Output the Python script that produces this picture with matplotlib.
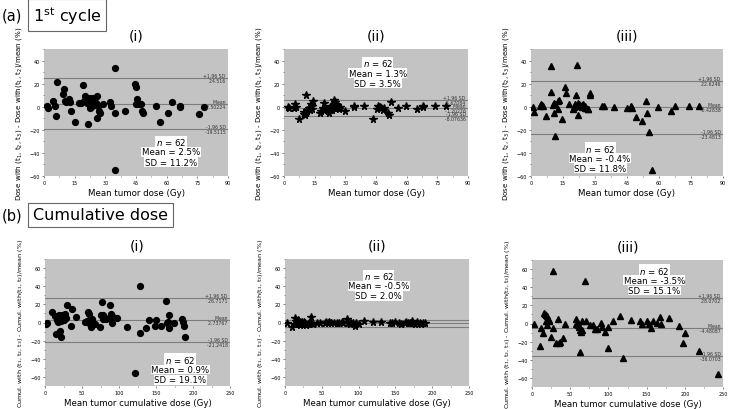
import matplotlib
matplotlib.use("Agg")
import matplotlib.pyplot as plt
from matplotlib.ticker import MultipleLocator

# ---- data ----
# (a) 1st cycle
a1_x = [1.6, 1.8, 4.5, 5.6, 5.8, 6.5, 9.5, 10.0, 10.5, 11.0, 12.0, 12.5, 13.0, 15.0,
        17.0, 18.0, 19.3, 20.0, 20.6, 21.0, 21.3, 22.0, 22.5, 23.0, 23.5, 24.0, 24.5,
        25.0, 25.8, 26.0, 26.2, 27.0, 27.3, 28.7, 32.2, 33.0, 34.7, 34.7, 34.9, 39.5,
        44.5, 45.0, 45.3, 44.8, 46.5, 47.3, 48.0, 48.3, 55.0, 56.5, 60.5, 62.6, 66.5,
        66.7, 76.0, 78.5, 21.8, 23.2, 24.3, 19.8, 22.7, 25.5]
a1_y = [0.9, -1.0, 5.2, 0.9, -8.3, 21.8, 11.0, 15.0, 5.0, 4.5, 7.0, 4.0, -3.4, -13.0,
        3.0, 3.0, 18.4, 9.0, 7.5, 3.0, -15.0, 6.0, 7.5, 0.0, 4.0, 7.5, 5.5,
        2.5, 9.0, -10.0, 1.0, -4.0, -5.5, 2.3, 4.0, 0.3, 33.3, -55.0, -5.5, -3.4,
        20.0, 17.5, 7.0, 2.0, 2.0, 2.0, -4.0, -5.5, 1.0, -13.0, -5.5, 4.0, 0.3,
        -0.6, -6.3, -0.6, 4.5, 2.5, 1.5, 5.0, -1.0, 3.5]
a2_x = [2.0, 2.5, 4.7, 5.2, 5.7, 7.3, 9.6, 10.0, 10.5, 10.9, 11.0, 11.2, 12.0, 12.5,
        13.0, 13.5, 14.0, 13.7, 17.8, 18.3, 19.0, 19.4, 20.5, 21.3, 21.8, 22.3, 22.7,
        23.0, 23.6, 24.0, 24.8, 25.0, 25.3, 25.7, 26.0, 26.5, 27.0, 27.3, 29.7, 34.0,
        34.4, 39.0, 43.5, 45.3, 46.0, 46.5, 47.0, 47.5, 48.3, 48.8, 51.0, 51.5, 52.5,
        55.8, 59.5, 65.0, 67.8, 68.2, 74.0, 79.0, 21.0, 24.4]
a2_y = [0.0, -0.8, -1.0, 2.0, -0.5, -11.0, -4.6, -6.5, -7.0, 10.0, -5.0, -2.6, -1.0, -2.5,
        2.0, 0.5, 4.6, -2.0, -5.5, -3.5, -1.5, 3.0, -2.0, -4.0, -5.5, -2.5, -0.5,
        0.5, -2.5, -1.0, 4.0, 2.0, 0.0, -0.5, 1.5, -1.5, -2.0, -0.5, -3.4, 0.0,
        1.0, 0.3, -11.0, -2.0, 1.0, 0.0, -0.5, -1.5, -2.5, -1.0, -5.5, -7.0, 3.7,
        -1.0, 1.0, -1.7, 0.0, 0.3, 1.0, 0.3, -3.0, 5.5]
a3_x = [1.1, 1.5, 4.2, 4.8, 5.3, 5.8, 6.9, 9.4, 9.4, 10.5, 10.8, 11.2, 10.9, 11.2,
        12.5, 12.8, 13.0, 14.7, 15.9, 16.2, 17.8, 20.3, 20.6, 21.0, 21.2, 21.4, 22.2,
        22.5, 23.0, 23.5, 24.0, 24.6, 25.0, 25.5, 26.0, 26.5, 27.6, 27.8, 33.4, 34.0,
        39.0, 44.8, 46.8, 47.0, 47.5, 49.0, 52.0, 53.8, 54.6, 55.2, 56.5, 59.6, 65.4,
        67.4, 74.0, 78.6, 21.8, 23.8, 25.2, 26.8, 19.8, 24.2]
a3_y = [-0.6, -4.6, 1.0, 2.0, 1.5, 1.0, -8.3, 35.6, 12.6, 1.5, 3.0, 2.0, -5.5, -25.6,
        5.0, -1.7, 6.0, -10.3, 17.2, 11.8, 2.3, -0.3, 2.0, 9.8, 0.5, 36.2, -7.5,
        2.5, 1.5, 0.5, -0.5, 0.8, -0.5, -1.0, -1.5, -2.2, 11.8, 10.3, 1.0, 0.8,
        -0.6, -1.0, 0.0, 1.0, -1.5, -9.0, -12.6, 4.6, -5.5, -22.0, -55.0, -0.3, -3.4,
        1.0, 1.0, 0.6, 3.0, 1.8, 0.2, -2.0, -2.0, 2.5]

# (b) cumulative dose
b1_x = [2.3, 1.3, 10.0, 14.0, 15.0, 16.5, 18.0, 19.5, 20.5, 21.0, 21.5, 22.5, 24.0, 27.0,
        28.0, 30.0, 35.0, 36.0, 42.0, 53.6, 58.0, 60.0, 61.0, 60.5, 62.0, 67.0, 74.0,
        76.0, 78.0, 77.0, 79.0, 87.7, 88.6, 91.0, 92.0, 97.0, 111.0, 121.0, 128.0, 128.5,
        136.0, 141.0, 148.0, 150.0, 157.0, 164.0, 165.0, 166.0, 167.0, 168.0, 174.0, 185.0,
        186.0, 188.0, 189.0, 17.5, 23.0, 25.0, 57.0, 82.0, 86.0, 63.0]
b1_y = [0.0, -1.8, 11.6, 7.0, -12.7, 3.0, 5.0, 8.0, -9.0, -15.6, 2.0, 4.0, 7.0, 9.0,
        4.5, 19.6, -3.6, 15.0, 6.0, 0.7, 11.6, 9.8, 0.7, -1.8, -5.5, -1.8, -5.5,
        8.0, 4.4, 22.5, 8.0, 19.6, 9.8, -1.0, 6.0, 5.5, -5.5, -56.0, 40.7, -12.0,
        -6.5, 2.5, -4.0, 2.5, -4.0, 23.6, 0.0, 0.7, -6.5, 8.0, 0.0, 4.4,
        0.7, -4.0, -15.6, 1.0, 8.5, 3.0, 1.5, 3.5, 5.0, 4.0]
b2_x = [3.0, 10.0, 13.5, 16.0, 18.0, 19.5, 20.5, 21.0, 23.0, 25.0, 27.0, 29.0, 31.0, 33.0,
        35.0, 36.0, 38.0, 43.0, 54.0, 56.0, 58.5, 60.0, 62.0, 63.0, 66.0, 70.0, 74.0,
        77.0, 79.0, 84.0, 86.0, 88.0, 90.0, 93.0, 95.0, 97.0, 107.0, 119.0, 131.0, 142.5,
        145.0, 155.0, 157.0, 163.0, 165.0, 167.0, 170.0, 172.0, 174.0, 176.0, 183.0, 185.0,
        188.0, 190.0, 15.0, 22.0, 26.0, 47.0, 100.0, 150.0, 180.0, 12.0]
b2_y = [0.0, -4.7, 5.0, -1.0, 2.5, -2.0, 0.5, -3.0, 0.8, -1.5, -0.5, -2.5, -1.5, -0.5,
        6.0, 0.0, -1.5, -1.0, 0.0, 0.8, -1.0, 0.8, 0.0, -1.0, 0.0, -1.0, 0.0,
        0.8, -0.5, 4.3, 0.0, -2.0, 0.0, -1.0, -3.5, 0.0, 1.4, 0.7, 0.7, 0.0,
        -1.0, 0.0, -2.0, 0.0, 0.8, 0.0, -1.0, 1.5, 0.0, -2.0, 0.0, -2.0,
        -0.8, 0.0, 1.5, -1.5, 1.0, -0.5, -1.5, 0.5, 0.3, -2.0]
b3_x = [3.0, 10.0, 12.0, 15.0, 16.0, 17.0, 18.0, 19.0, 20.0, 18.0, 19.5, 22.0, 25.0, 28.0,
        28.0, 32.0, 34.0, 35.0, 37.0, 41.0, 43.0, 57.0, 58.0, 60.0, 61.0, 63.0, 64.5,
        66.0, 63.0, 66.0, 69.5, 70.7, 76.0, 80.0, 83.0, 85.0, 90.0, 92.0, 96.0, 100.0,
        100.0, 106.0, 115.0, 119.0, 130.0, 141.5, 143.5, 151.0, 153.0, 156.0, 158.0, 163.0,
        168.0, 168.5, 179.0, 192.0, 197.0, 200.0, 218.0, 244.0, 22.0, 60.0]
b3_y = [0.0, -25.0, -5.5, -10.0, 11.6, 10.0, 9.8, 8.0, 3.0, 3.0, -1.8, 3.0, -15.0, 58.0,
        -4.7, -22.0, 5.5, -22.0, -20.0, -15.6, 0.0, 5.0, 0.0, -2.0, -4.0, -7.0, -9.0,
        -7.5, -31.0, 2.5, 47.0, 3.0, -1.8, -1.8, -6.5, -6.0, 0.7, -4.0, -9.0, -4.0,
        -27.0, 2.5, 8.0, -38.0, 4.4, 3.0, -1.0, 3.0, -1.0, -5.5, 3.0, 0.7,
        7.0, -1.0, 6.0, -3.0, -21.0, -10.0, -30.0, -56.0, 4.0, 1.0]

# limits of agreement lines: (+1.96 SD, mean, -1.96 SD)
a1_lines = [24.51601, 2.50224, -19.51153]
a2_lines = [5.67084, -1.20276, -8.07636]
a3_lines = [22.62457, -0.42838, -23.48135]
b1_lines = [26.7171, 2.73767, -21.24176]
b2_lines = [3.3, -0.6, -4.5]
b3_lines = [28.07023, -4.48087, -36.07035]

a_stats = [("62", "2.5", "11.2"), ("62", "1.3", "3.5"), ("62", "-0.4", "11.8")]
b_stats = [("62", "0.9", "19.1"), ("62", "-0.5", "2.0"), ("62", "-3.5", "15.1")]

W, H = 729, 410
fig = plt.figure(figsize=(W / 100, H / 100), dpi=100)

bg = "#c3c3c3"
line_c = "#7d7d7d"


def px_axes(left, right, top, bottom):
    return fig.add_axes([left / W, 1 - bottom / H, (right - left) / W, (bottom - top) / H])


def panel(ax, x, y, marker, msize, lines, show_lbl, stats, stat_pos, xmax, xmaj, ymin, ymax,
          ylabel, ylsize, xlabel, title):
    ax.set_facecolor(bg)
    for v in lines:
        ax.axhline(v, color=line_c, lw=0.8, zorder=1)
    ax.plot(x, y, linestyle="none", marker=marker, ms=msize, color="black", zorder=3)
    ax.set_xlim(0, xmax)
    ax.set_ylim(ymin, ymax)
    ax.xaxis.set_major_locator(MultipleLocator(xmaj))
    ax.xaxis.set_minor_locator(MultipleLocator(xmaj / 2))
    ax.yaxis.set_major_locator(MultipleLocator(20))
    ax.yaxis.set_minor_locator(MultipleLocator(10))
    ax.tick_params(which="both", labelsize=3.5, length=1.5, width=0.5, pad=1.5, color="#555555")
    ax.tick_params(which="minor", length=1)
    for s in ax.spines.values():
        s.set_visible(False)
    ax.set_ylabel(ylabel, fontsize=ylsize, labelpad=4)
    ax.set_xlabel(xlabel, fontsize=6.2, labelpad=2)
    ax.set_title(title, fontsize=10, pad=7)
    if show_lbl:
        names = ["+1.96 SD", "Mean", "-1.96 SD"]
        for nm, v in zip(names, lines):
            ax.text(0.995, v, nm + " ", transform=ax.get_yaxis_transform(), ha="right",
                    va="bottom", fontsize=3.3, color="#333333")
            ax.text(0.995, v, "%g " % v, transform=ax.get_yaxis_transform(), ha="right",
                    va="top", fontsize=3.3, color="#333333")
    n, m, sd = stats
    sx, sy = stat_pos
    box = dict(facecolor="white", edgecolor="none", pad=0.3)
    step = 0.08
    ax.text(sx, sy, "$n$ = " + n, transform=ax.transAxes, ha="center", va="center",
            fontsize=6.2, bbox=box, zorder=4)
    ax.text(sx, sy - step, "Mean = " + m + "%", transform=ax.transAxes, ha="center",
            va="center", fontsize=6.2, bbox=box, zorder=4)
    ax.text(sx, sy - 2 * step, "SD = " + sd + "%", transform=ax.transAxes, ha="center",
            va="center", fontsize=6.2, bbox=box, zorder=4)


pairs = ["t$_1$, t$_2$", "t$_1$, t$_3$", "t$_2$, t$_3$"]
titles = ["(i)", "(ii)", "(iii)"]
markers = [("o", 4.2), ("*", 5.5), ("^", 4.3)]

a_data = [(a1_x, a1_y, a1_lines), (a2_x, a2_y, a2_lines), (a3_x, a3_y, a3_lines)]
b_data = [(b1_x, b1_y, b1_lines), (b2_x, b2_y, b2_lines), (b3_x, b3_y, b3_lines)]

a_boxes = [(44, 228, 50, 177), (284, 468, 50, 177), (531, 723, 50, 177)]
b_boxes = [(45, 230, 260, 387), (285, 469, 260, 387), (532, 723, 261, 388)]
a_pos = [(0.69, 0.27), (0.51, 0.89), (0.36, 0.22)]
b_pos = [(0.73, 0.21), (0.51, 0.87), (0.64, 0.92)]

for i in range(3):
    ax = px_axes(*a_boxes[i])
    x, y, lines = a_data[i]
    panel(ax, x, y, markers[i][0], markers[i][1], lines, True, a_stats[i], a_pos[i],
          90, 15, -60, 50,
          "Dose with (t$_1$, t$_2$, t$_3$) - Dose with(" + pairs[i] + ")/mean (%)", 5.1,
          "Mean tumor dose (Gy)", titles[i])

for i in range(3):
    ax = px_axes(*b_boxes[i])
    x, y, lines = b_data[i]
    panel(ax, x, y, markers[i][0], markers[i][1], lines, i != 1, b_stats[i], b_pos[i],
          250, 50, -70, 70,
          "Cumul. with (t$_1$, t$_2$, t$_3$) - Cumul. with(" + pairs[i] + ")/mean (%)", 4.6,
          "Mean tumor cumulative dose (Gy)", titles[i])

hdr_box = dict(facecolor="white", edgecolor="#666666", boxstyle="square,pad=0.3", lw=0.8)
fig.text(2 / W, 1 - 16 / H, "(a)", fontsize=10.5, va="center", ha="left")
fig.text(33 / W, 1 - 16 / H, "1$^{\\mathrm{st}}$ cycle", fontsize=11.5, va="center",
         ha="left", bbox=hdr_box)
fig.text(2 / W, 1 - 216 / H, "(b)", fontsize=10.5, va="center", ha="left")
fig.text(33 / W, 1 - 216 / H, "Cumulative dose", fontsize=11.5, va="center", ha="left",
         bbox=hdr_box)

fig.savefig("out.png", dpi=100)
